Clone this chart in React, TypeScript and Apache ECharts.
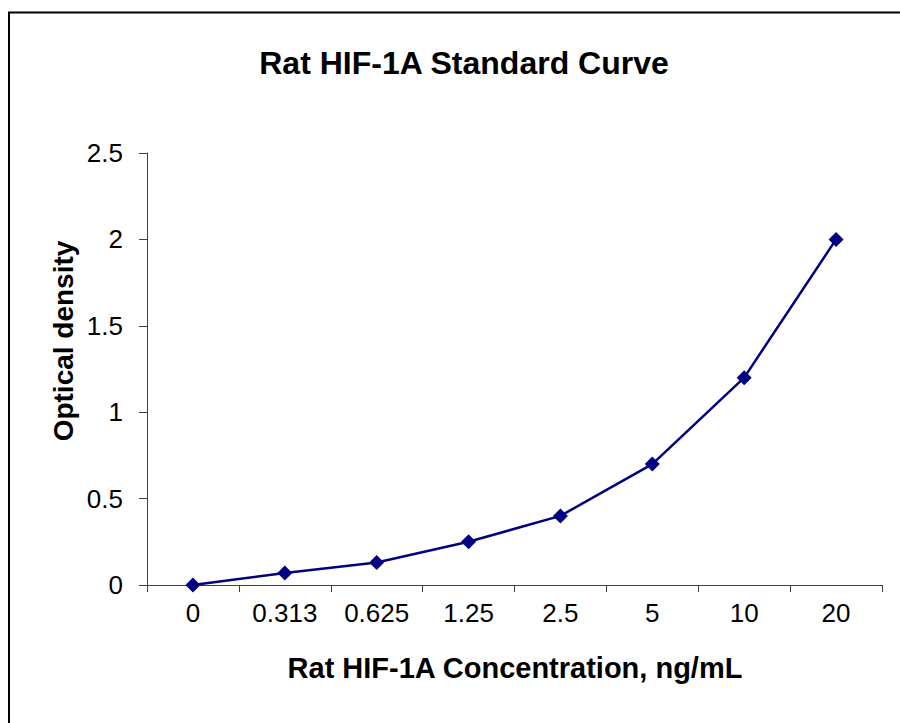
import React, { useEffect, useRef } from "react";
import * as echarts from "echarts";

const categories = ["0", "0.313", "0.625", "1.25", "2.5", "5", "10", "20"];
const odValues = [0, 0.07, 0.13, 0.25, 0.4, 0.7, 1.2, 2.0];
const yTicks = { min: 0, max: 2.5, interval: 0.5 };
const titleText = "Rat HIF-1A Standard Curve";
const xName = "Rat HIF-1A Concentration, ng/mL";
const yName = "Optical density";

const FONT = "'Liberation Sans', Arial, sans-serif";

export default function App() {
  const ref = useRef<HTMLDivElement>(null);
  useEffect(() => {
    if (!ref.current) return;
    const chart = echarts.init(ref.current, undefined, { renderer: "svg" });
    chart.setOption({
      animation: false,
      backgroundColor: "#fff",
      grid: { left: 147, right: 18, top: 153, bottom: 138, containLabel: false },
      xAxis: {
        type: "category",
        data: categories,
        boundaryGap: true,
        axisLine: { lineStyle: { color: "#404040", width: 1 } },
        axisTick: { show: true, alignWithLabel: false, length: 7, inside: false, lineStyle: { color: "#404040" } },
        axisLabel: { color: "#000", fontSize: 26, fontFamily: FONT, margin: 15, interval: 0 },
        splitLine: { show: false },
      },
      yAxis: {
        type: "value",
        min: yTicks.min,
        max: yTicks.max,
        interval: yTicks.interval,
        axisLine: { show: true, lineStyle: { color: "#404040", width: 1 } },
        axisTick: { show: true, length: 8, inside: false, lineStyle: { color: "#404040" } },
        axisLabel: { color: "#000", fontSize: 26, fontFamily: FONT, margin: 24 },
        splitLine: { show: false },
      },
      series: [
        {
          type: "line",
          data: odValues,
          symbol: "diamond",
          symbolSize: 15,
          lineStyle: { color: "#000080", width: 2.5 },
          itemStyle: { color: "#000080" },
        },
      ],
      graphic: [
        { type: "line", shape: { x1: 8, y1: 12.5, x2: 900, y2: 12.5 }, style: { stroke: "#000", lineWidth: 2 } },
        { type: "line", shape: { x1: 9, y1: 12, x2: 9, y2: 723 }, style: { stroke: "#000", lineWidth: 2 } },
        {
          type: "text",
          x: 464,
          y: 63,
          style: { text: titleText, font: `bold 32px ${FONT}`, fill: "#000", textAlign: "center", textVerticalAlign: "middle" },
        },
        {
          type: "text",
          x: 515,
          y: 668,
          style: { text: xName, font: `bold 29px ${FONT}`, fill: "#000", textAlign: "center", textVerticalAlign: "middle" },
        },
        {
          type: "text",
          x: 63,
          y: 341,
          rotation: Math.PI / 2,
          style: { text: yName, font: `bold 28px ${FONT}`, fill: "#000", textAlign: "center", textVerticalAlign: "middle" },
        },
      ],
    });
    return () => chart.dispose();
  }, []);
  return <div ref={ref} style={{ position: "fixed", left: 0, top: 0, width: 900, height: 723 }} />;
}
